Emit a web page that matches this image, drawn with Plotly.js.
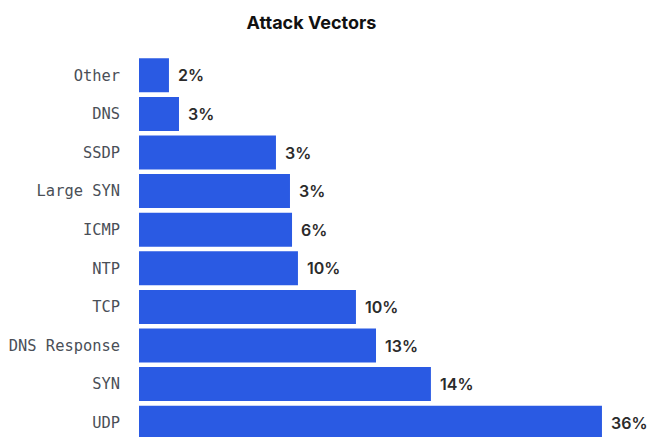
<!DOCTYPE html>
<html>
<head>
<meta charset="utf-8">
<script src="https://cdn.plot.ly/plotly-3.0.1.min.js"></script>
<style>
html, body { margin: 0; padding: 0; overflow: hidden; background: #fff; }
#chart { width: 649px; height: 447px; }
</style>
</head>
<body>
<div id="chart"></div>
<script>
// Data
const categories = ["Other", "DNS", "SSDP", "Large SYN", "ICMP", "NTP", "TCP", "DNS Response", "SYN", "UDP"];
const barValues = [2.33, 3.11, 10.65, 11.74, 11.9, 12.36, 16.87, 18.43, 22.7, 36];
const valueLabels = ["2%", "3%", "3%", "3%", "6%", "10%", "10%", "13%", "14%", "36%"];

const annotations = categories.map((c, i) => ({
  x: barValues[i], y: c, xref: "x", yref: "y",
  text: valueLabels[i], showarrow: false, xanchor: "left", yanchor: "middle",
  xshift: 7,
  font: { family: "Inter, 'Noto Sans', sans-serif", size: 16, weight: 600, color: "#2b2b2b" }
}));

const trace = {
  type: "bar", orientation: "h",
  x: barValues, y: categories,
  marker: { color: "#2a5ae3" },
  hoverinfo: "none"
};

const layout = {
  width: 649, height: 447,
  margin: { l: 139, r: 10, t: 56, b: 5 },
  paper_bgcolor: "#fff", plot_bgcolor: "#fff",
  title: {
    text: "<b>Attack Vectors</b>",
    x: 0.48, xref: "container", xanchor: "center",
    y: 0.95, yref: "container", yanchor: "middle",
    font: { family: "Inter, 'Noto Sans', sans-serif", size: 18, color: "#111" }
  },
  bargap: 0.12,
  showlegend: false,
  xaxis: { range: [0, 38.88], showgrid: false, zeroline: false, showticklabels: false, showline: false, ticks: "" },
  yaxis: {
    autorange: "reversed", showgrid: false, zeroline: false, showline: false, ticks: "",
    ticklabelstandoff: 18,
    tickfont: { family: "'DejaVu Sans Mono', monospace", size: 15.4, color: "#4a4f57" }
  },
  annotations: annotations
};

Plotly.newPlot("chart", [trace], layout, { displayModeBar: false, staticPlot: true });
</script>
</body>
</html>
